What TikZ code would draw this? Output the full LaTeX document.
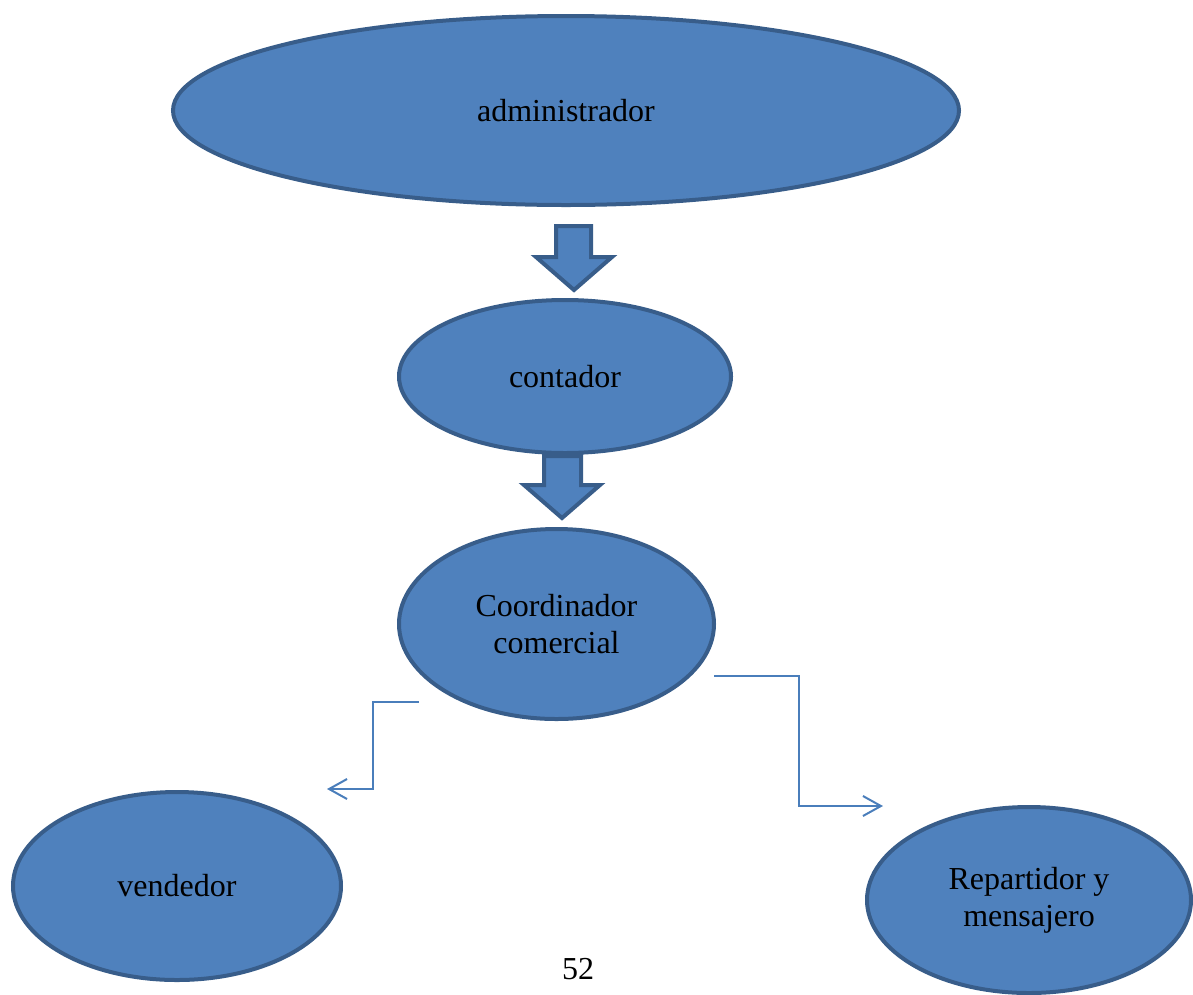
\documentclass[tikz,border=0pt]{standalone}
\usepackage{fontspec}
\setmainfont{Liberation Serif}
\usetikzlibrary{shapes.geometric,arrows.meta}
\definecolor{ofill}{HTML}{4F81BD}
\definecolor{oline}{HTML}{385D8A}
\definecolor{oconn}{HTML}{4A7EBB}
\begin{document}
\begin{tikzpicture}[x=1pt,y=-1pt,
  oval/.style={ellipse, draw=oline, fill=ofill, line width=4pt, inner sep=0pt, align=center,
    font=\fontsize{32}{37}\selectfont},
  blockarrow/.style={draw=oline, fill=ofill, line width=4pt, line join=miter},
  conn/.style={draw=oconn, line width=2pt, -{Straight Barb[length=18pt,width=20pt,line width=2pt]}},
  lbl/.style={font=\fontsize{32}{37}\selectfont, inner sep=0pt}]
\useasboundingbox (0,0) rectangle (1193,994);
\node[oval, minimum width=786pt, minimum height=189pt] (adm) at (566,110.5) {administrador};
\node[oval, minimum width=332pt, minimum height=153pt] (cont) at (565,376.5) {contador};
\node[oval, minimum width=315pt, minimum height=190pt] (coord) at (556.5,624) {Coordinador\\comercial};
\node[oval, minimum width=328pt, minimum height=188pt] (vend) at (177,886) {vendedor};
\node[oval, minimum width=324pt, minimum height=186pt] (rep) at (1029,900) {Repartidor y\\mensajero};
% block arrows
\draw[blockarrow] (556,226) -- (591,226) -- (591,257) -- (612,257) -- (574,290) -- (536,257) -- (556,257) -- cycle;
\draw[blockarrow] (544,456) -- (581,456) -- (581,485) -- (600,485) -- (562,518) -- (524,485) -- (544,485) -- cycle;
% connectors
\coordinate (ls) at (419,702);
\coordinate (le) at (327,789);
\coordinate (rs) at (714,676);
\coordinate (re) at (883,806);
\draw[conn] (ls) -- (373,702) -- (373,789) -- (le);
\draw[conn] (rs) -- (798.5,676) -- (798.5,806) -- (re);
\node[lbl] (pg) at (578,969) {52};
\end{tikzpicture}
\end{document}
